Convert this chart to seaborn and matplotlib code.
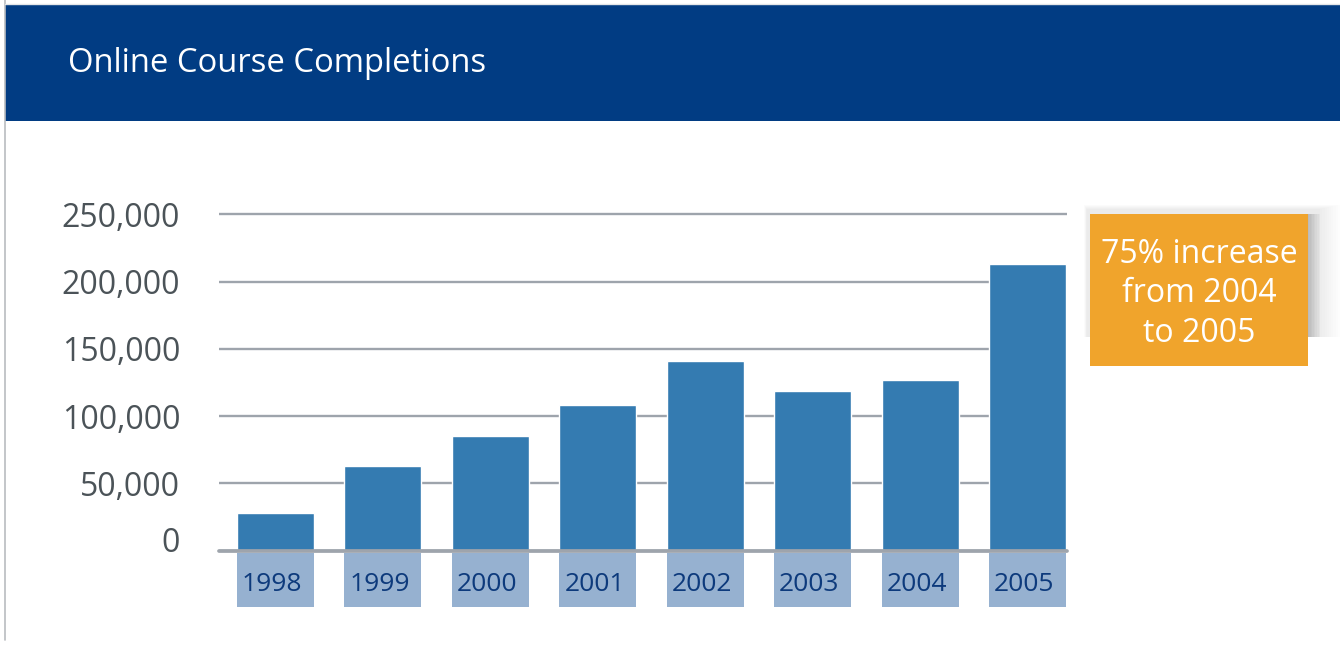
import matplotlib
matplotlib.use("Agg")
import matplotlib.pyplot as plt
from matplotlib.patches import Rectangle
from matplotlib.lines import Line2D
from matplotlib.transforms import ScaledTranslation
import seaborn as sns
import pandas as pd

# Completions per year
years = ["1998", "1999", "2000", "2001", "2002", "2003", "2004", "2005"]
completions = [28000, 63000, 85000, 108000, 141000, 119000, 127000, 213000]
tick_values = [0, 50000, 100000, 150000, 200000, 250000]
tick_labels = ["0", "50,000", "100,000", "150,000", "200,000", "250,000"]
title = "Online Course Completions"
callout = "75% increase\nfrom 2004\nto 2005"

W, H = 1340, 647
NAVY = "#013c83"
BAR = "#347bb1"
STRIP = "#96b1d0"
GRID = "#9ea4ac"
ORANGE = "#f0a42c"

sns.set_theme(style="white")
plt.rcParams["font.family"] = ["Open Sans", "DejaVu Sans"]

fig = plt.figure(figsize=(W / 100, H / 100), dpi=100)
fig.patch.set_facecolor("white")


def px_rect(x0, y0, x1, y1, **kw):
    """Rectangle given in pixel coordinates measured from the top-left."""
    return Rectangle((x0 / W, 1 - y1 / H), (x1 - x0) / W, (y1 - y0) / H,
                     transform=fig.transFigure, **kw)


# Frame and header band
fig.add_artist(Line2D([4.5 / W, 4.5 / W], [1 - 640 / H, 1], color="#b9bcc0",
                      lw=1.2, transform=fig.transFigure))
fig.add_artist(Line2D([4.5 / W, 1], [1 - 4 / H, 1 - 4 / H], color="#e4e6e8",
                      lw=1.0, transform=fig.transFigure))
fig.add_artist(px_rect(5, 5, W, 121, facecolor=NAVY, edgecolor="none"))
fig.text(68 / W, 1 - 64 / H, title, color="white", fontsize=23.6,
         ha="left", va="center")

# Main bar axes
ax_left, ax_right = 219, 1067
y_zero, y_top = 550.7, 200.8
ax = fig.add_axes([ax_left / W, 1 - y_zero / H, (ax_right - ax_left) / W,
                   (y_zero - y_top) / H])
df = pd.DataFrame({"year": years, "completions": completions})
bar_w = 0.717
sns.barplot(data=df, x="year", y="completions", color=BAR, width=bar_w,
            saturation=1, ax=ax, zorder=2)
xlim = (-0.526, len(years) - 1 + 0.368)
ax.set_xlim(*xlim)
ax.set_ylim(0, 260000)
ax.set_yticks(tick_values)
ax.set_yticklabels(tick_labels)
ax.set_xticks([])
ax.set_xlabel("")
ax.set_ylabel("")
for s in ax.spines.values():
    s.set_visible(False)
ax.set_facecolor("none")
ax.yaxis.grid(True, color=GRID, lw=1.7, zorder=0)
ax.set_axisbelow(True)
ax.tick_params(axis="y", length=0, pad=28, labelsize=23, labelcolor="#4b5358")
ax.axhline(0, color=GRID, lw=2.7, zorder=3, clip_on=False)
# lift the "0" label a little above the baseline
zero_lbl = ax.get_yticklabels()[0]
zero_lbl.set_transform(zero_lbl.get_transform() +
                       ScaledTranslation(0, 11 / 100, fig.dpi_scale_trans))

# Category label strip under the baseline
strip = fig.add_axes([ax_left / W, 1 - 606.7 / H, (ax_right - ax_left) / W,
                      54 / H])
strip.set_xlim(*xlim)
strip.set_ylim(0, 1)
strip.axis("off")
for i, yr in enumerate(years):
    strip.axvspan(i - bar_w / 2, i + bar_w / 2, color=STRIP, lw=0)
    strip.text(i - 0.03, 0.41, yr, ha="center", va="center", fontsize=19,
               color="#0d3a7c")

# Callout with a soft shadow
for k in range(10):
    fig.add_artist(px_rect(1084 + k * 0.3, 205 + k * 0.5, 1340 - k * 2.2, 337,
                           facecolor="#6e6e6e", edgecolor="none",
                           alpha=0.012))
for k in range(8):
    fig.add_artist(px_rect(1090, 214, 1309 + k * 1.6, 337,
                           facecolor="#555555", edgecolor="none", alpha=0.045))
fig.add_artist(px_rect(1090, 214, 1308, 366, facecolor=ORANGE,
                       edgecolor="none"))
fig.text(1199 / W, 1 - 294 / H, callout, color="white", fontsize=23,
         ha="center", va="center", linespacing=1.27)

fig.savefig("out.png", dpi=100, facecolor="white")
